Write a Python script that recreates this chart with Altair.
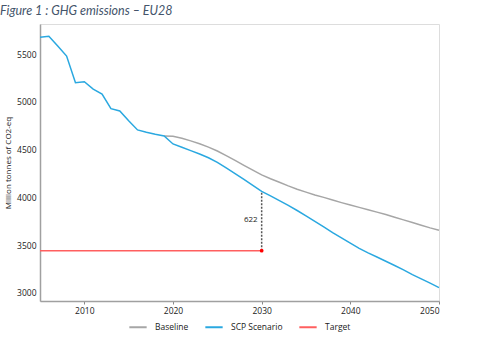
import altair as alt
import pandas as pd

# Historical + SCP scenario (blue)
scp_years = list(range(2005, 2051))
scp_values = [5680, 5690, 5587, 5482, 5202, 5213, 5136, 5084, 4930, 4906,
              4804, 4707, 4682, 4661, 4644, 4560, 4525, 4490, 4455, 4415,
              4366, 4308, 4250, 4188, 4126, 4063, 4015, 3965, 3915, 3862,
              3805, 3748, 3690, 3630, 3575, 3519, 3465, 3418, 3375, 3330,
              3285, 3240, 3190, 3145, 3100, 3053]

# Baseline (grey)
base_years = list(range(2019, 2051))
base_values = [4644, 4640, 4620, 4592, 4562, 4527, 4486, 4438, 4388, 4336,
               4285, 4235, 4195, 4158, 4120, 4085, 4055, 4025, 4000, 3972,
               3945, 3920, 3895, 3870, 3845, 3820, 3792, 3764, 3736, 3708,
               3680, 3655]

# Target (red)
target_years = [2005, 2030]
target_values = [3441, 3441]
gap_label = "622"

series_names = ["Baseline", "SCP Scenario", "Target"]
series_colors = ["#a6a6a6", "#2aa8e0", "#ff5f5f"]

rows = []
for y, v in zip(base_years, base_values):
    rows.append({"year": y, "value": v, "series": "Baseline", "order": 0})
for y, v in zip(scp_years, scp_values):
    rows.append({"year": y, "value": v, "series": "SCP Scenario", "order": 1})
for y, v in zip(target_years, target_values):
    rows.append({"year": y, "value": v, "series": "Target", "order": 2})
df = pd.DataFrame(rows)

xscale = alt.Scale(domain=[2005, 2050], nice=False, zero=False)
yscale = alt.Scale(domain=[2913, 5818], nice=False, zero=False)

lines = alt.Chart(df).mark_line(strokeWidth=1.5).encode(
    x=alt.X("year:Q", scale=xscale,
            axis=alt.Axis(values=[2010, 2020, 2030, 2040, 2050], format="d",
                          title=None, grid=False, tickSize=3, tickColor="#888888",
                          domainColor="#a0a0a0", domainWidth=1.5,
                          labelFont="Open Sans", labelFontSize=8.5,
                          labelColor="#222222", labelPadding=2)),
    y=alt.Y("value:Q", scale=yscale,
            axis=alt.Axis(values=[3000, 3500, 4000, 4500, 5000, 5500], format="d",
                          title="Million tonnes of CO2-eq", grid=False,
                          tickSize=0, domainColor="#a0a0a0", domainWidth=1.5,
                          labelFont="Open Sans", labelFontSize=8.5,
                          labelColor="#222222", labelPadding=4,
                          titleFont="Open Sans", titleFontSize=8,
                          titleFontWeight="normal", titleColor="#222222",
                          titleX=-32, titleBaseline="middle")),
    color=alt.Color("series:N",
                    scale=alt.Scale(domain=series_names, range=series_colors),
                    legend=alt.Legend(title=None, orient="none", direction="horizontal",
                                      legendX=88, legendY=293,
                                      symbolType="stroke", symbolSize=300,
                                      symbolStrokeWidth=2, labelFont="Open Sans",
                                      labelFontSize=8.5, labelColor="#222222",
                                      columnPadding=12, labelOffset=7)),
    detail="series:N",
    order="order:Q",
)

gap_df = pd.DataFrame({"year": [2030], "lo": [target_values[1]], "hi": [scp_values[25]],
                       "mid": [3765], "label": [gap_label]})

gap_rule = alt.Chart(gap_df).mark_rule(color="#555555", strokeDash=[2, 1.5],
                                       strokeWidth=1.5).encode(
    x="year:Q", y="lo:Q", y2="hi:Q")

gap_text = alt.Chart(gap_df).mark_text(align="right", baseline="middle", dx=-4,
                                       font="Open Sans", fontSize=8,
                                       color="#222222").encode(
    x="year:Q", y="mid:Q", text="label:N")

dot_df = pd.DataFrame({"year": [target_years[1]], "value": [target_values[1]]})
dot = alt.Chart(dot_df).mark_point(filled=True, color="#ff0000", size=14,
                                   opacity=1).encode(x="year:Q", y="value:Q")

chart = alt.layer(lines, gap_rule, gap_text, dot).properties(
    width=399, height=277,
    autosize=alt.AutoSizeParams(type="none"),
    padding={"left": 40, "top": 24, "right": 53, "bottom": 39},
    title=alt.TitleParams("Figure 1 : GHG emissions – EU28", anchor="start",
                          frame="group", dx=-40, offset=7, font="Lato",
                          fontSize=12.5, fontStyle="italic", fontWeight="normal",
                          color="#44546a"),
).configure_view(stroke=None).configure(background="white")

chart.save("out.html", embed_options={"renderer": "svg", "actions": False})
